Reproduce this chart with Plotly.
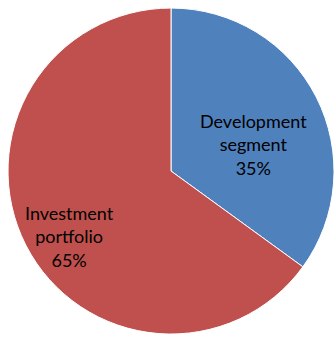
import plotly.graph_objects as go

# Segment shares
segments = ["Development segment", "Investment portfolio"]
label_lines = [["Development", "segment"], ["Investment", "portfolio"]]
shares = [35, 65]
colors = ["#4F81BD", "#C0504D"]

# Where each label block sits (paper coordinates)
label_pos = [(0.760, 0.570), (0.207, 0.297)]

fig = go.Figure(
    go.Pie(
        labels=segments,
        values=shares,
        sort=False,
        direction="clockwise",
        rotation=0,
        marker=dict(colors=colors, line=dict(color="white", width=1)),
        textinfo="none",
        hoverinfo="label+percent",
        domain=dict(x=[0.024, 1.0], y=[0.003, 0.982]),
        showlegend=False,
    )
)

total = sum(shares)
for lines, v, (px, py) in zip(label_lines, shares, label_pos):
    pct = round(100 * v / total)
    fig.add_annotation(
        x=px, y=py, xref="paper", yref="paper",
        xanchor="center", yanchor="middle",
        text="<br>".join(lines + [f"{pct}%"]),
        showarrow=False,
        align="center",
        font=dict(family="Lato, 'Open Sans', sans-serif", size=18, color="#000000"),
    )

fig.update_layout(
    width=334, height=337,
    margin=dict(l=0, r=0, t=0, b=0),
    paper_bgcolor="white",
    plot_bgcolor="white",
)

fig.write_html("out.html")
